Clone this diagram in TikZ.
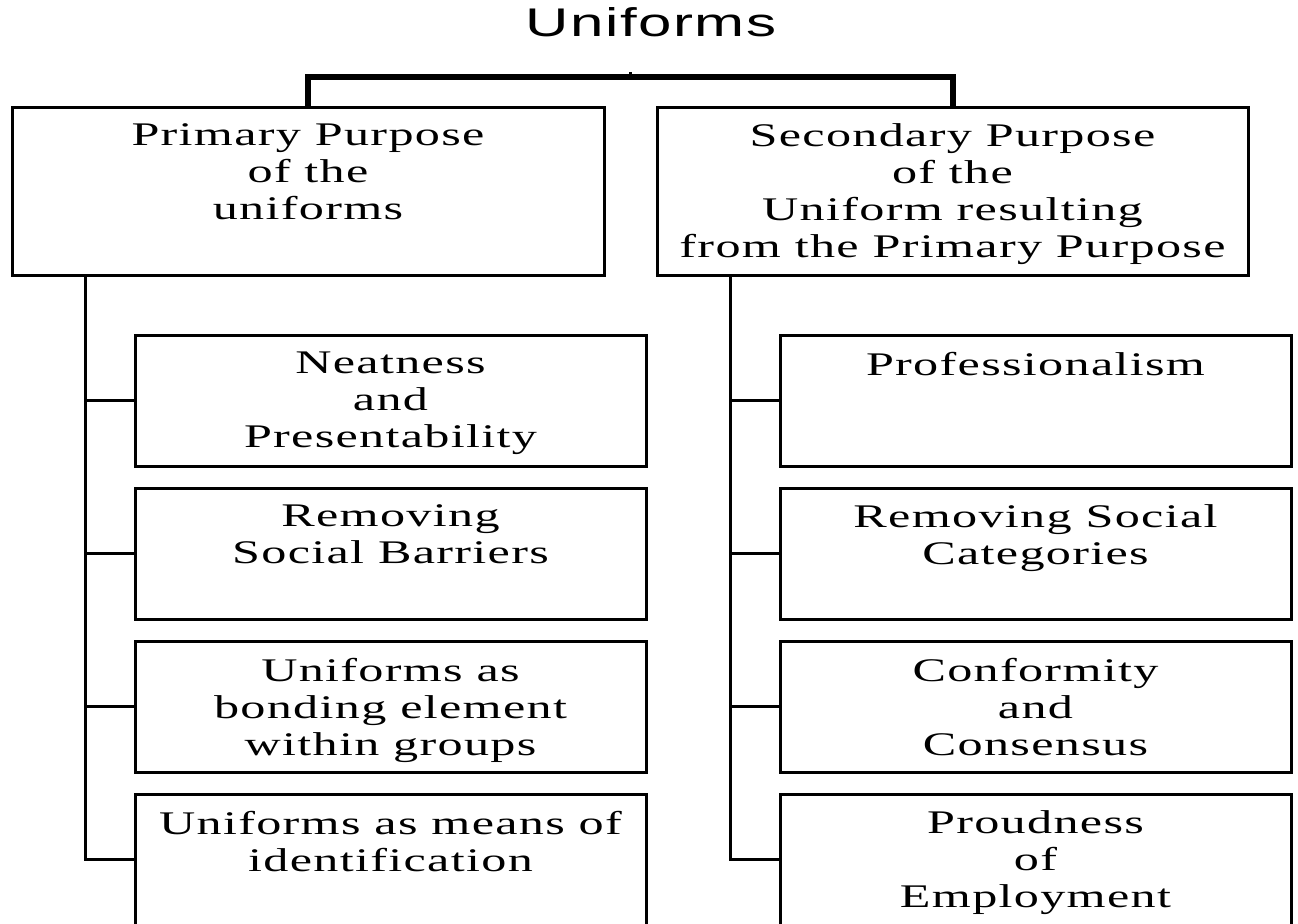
\documentclass[tikz,border=0pt]{standalone}
\usepackage{fontspec}
\setmainfont{Liberation Serif}[FakeStretch=1.52, LetterSpace=4]
\newfontfamily\titlefont{Liberation Sans}[FakeStretch=1.5, LetterSpace=4]
\usetikzlibrary{positioning, calc}

% top-aligned text inside a fixed box
\newcommand{\boxtext}[3]{\parbox[c][#2][t]{#1}{\centering\vspace*{8.5pt}#3\par}}

\begin{document}
\begin{tikzpicture}[
    x=0.5pt, y=-0.5pt,
    node distance=11pt,
    purpose/.style={draw, line width=1.5pt, inner sep=0pt, outer sep=0pt, font=\fontsize{16.5}{18.5}\selectfont},
    kid/.style={draw, line width=1.5pt, inner sep=0pt, outer sep=0pt, font=\fontsize{16.5}{18.5}\selectfont},
    link/.style={line width=1.5pt},
    bracket/.style={line width=3pt},
]
\useasboundingbox (0,0) rectangle (1298,923);
\clip (0,0) rectangle (1298,923);

\node[font=\titlefont\fontsize{20}{24}\selectfont] (title) at (651,22) {Uniforms};

\node[purpose] (p1) at (308,191) {\boxtext{296pt}{84pt}{Primary Purpose\\of the\\uniforms}};
\node[purpose] (p2) at (952.5,191) {\boxtext{295.5pt}{84pt}{Secondary Purpose\\of the\\Uniform resulting\\from the Primary Purpose}};

% left column
\node[kid, below=30pt of p1, xshift=41.25pt] (l1) {\boxtext{255.5pt}{65.5pt}{Neatness\\and\\Presentability}};
\node[kid, below=of l1] (l2) {\boxtext{255.5pt}{65.5pt}{Removing\\Social Barriers}};
\node[kid, below=of l2] (l3) {\boxtext{255.5pt}{65.5pt}{Uniforms as\\bonding element\\within groups}};
\node[kid, below=of l3] (l4) {\boxtext{255.5pt}{65.5pt}{Uniforms as means of\\identification}};

% right column
\node[kid, below=30pt of p2, xshift=41.5pt] (r1) {\boxtext{255.5pt}{65.5pt}{Professionalism}};
\node[kid, below=of r1] (r2) {\boxtext{255.5pt}{65.5pt}{Removing Social\\Categories}};
\node[kid, below=of r2] (r3) {\boxtext{255.5pt}{65.5pt}{Conformity\\and\\Consensus}};
\node[kid, below=of r3] (r4) {\boxtext{255.5pt}{65.5pt}{Proudness\\of\\Employment}};

% bracket joining the two purposes
\coordinate (hub) at ($(p1.north)!.5!(p2.north) + (0,-30)$);
\draw[bracket] (p1.north) -- ++(0,-30) -| (p2.north);
\draw[link] (hub) -- ++(0,-5);

% trunks
\coordinate (tl) at ([xshift=36.5pt]p1.south west);
\coordinate (tr) at ([xshift=36.5pt]p2.south west);
\draw[link] (tl) |- (l4.west);
\draw[link] (tr) |- (r4.west);
\foreach \k in {l1, l2, l3} {
    \draw[link] (\k.west) -- (\k.west -| tl);
}
\foreach \k in {r1, r2, r3} {
    \draw[link] (\k.west) -- (\k.west -| tr);
}

\end{tikzpicture}
\end{document}
